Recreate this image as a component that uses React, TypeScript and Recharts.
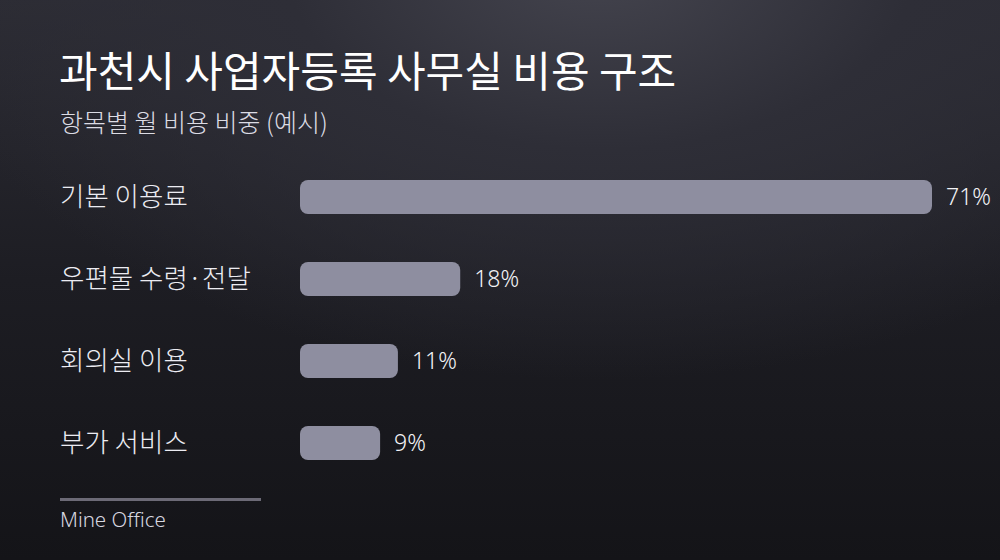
import React from "react";
import { BarChart, Bar, XAxis, YAxis, LabelList } from "recharts";

const categories = ["기본 이용료", "우편물 수령·전달", "회의실 이용", "부가 서비스"];
const shares = [71, 18, 11, 9];

const chartData = categories.map((name, i) => ({ name, value: shares[i] }));

const FONT = '"Noto Sans CJK KR", "Noto Sans", sans-serif';
const LATIN = '"Noto Sans", "Noto Sans CJK KR", sans-serif';

function CategoryTick({ y, payload }: any) {
  return (
    <text
      x={60}
      y={y}
      dy={9}
      textAnchor="start"
      fill="#ececf2"
      fontSize={26.5}
      fontWeight={300}
      fontFamily={FONT}
    >
      {payload.value}
    </text>
  );
}

export default function App() {
  return (
    <div
      style={{
        position: "fixed",
        left: 0,
        top: 0,
        width: 1000,
        height: 560,
        overflow: "hidden",
        fontFamily: FONT,
        background:
          "radial-gradient(ellipse 700px 420px at 600px -40px, #45454f 0%, #2e2e37 45%, rgba(0,0,0,0) 100%), linear-gradient(180deg, #2c2c34 0%, #1d1d23 50%, #141418 100%)",
      }}
    >
      <div
        style={{
          position: "absolute",
          left: 59,
          top: 44,
          fontSize: 42,
          fontWeight: 400,
          color: "#ffffff",
          whiteSpace: "nowrap",
          lineHeight: 1.2,
        }}
      >
        과천시 사업자등록 사무실 비용 구조
      </div>
      <div
        style={{
          position: "absolute",
          left: 60,
          top: 106,
          fontSize: 25,
          fontWeight: 300,
          color: "#dcdce4",
          whiteSpace: "nowrap",
          lineHeight: 1.2,
        }}
      >
        항목별 월 비용 비중 (예시)
      </div>

      <div style={{ position: "absolute", left: 0, top: 0 }}>
        <BarChart
          width={1000}
          height={560}
          data={chartData}
          layout="vertical"
          margin={{ top: 156, right: 68, bottom: 76, left: 0 }}
          barSize={34}
        >
          <XAxis type="number" domain={[0, 71]} hide />
          <YAxis
            type="category"
            dataKey="name"
            width={300}
            axisLine={false}
            tickLine={false}
            tick={<CategoryTick />}
          />
          <Bar dataKey="value" fill="#8e8ea0" radius={8} isAnimationActive={false}>
            <LabelList
              dataKey="value"
              position="right"
              offset={14}
              formatter={(v: any) => `${v}%`}
              fill="#f2f2f6"
              fontSize={23}
              fontWeight={300}
              fontFamily={LATIN}
            />
          </Bar>
        </BarChart>
      </div>

      <div
        style={{
          position: "absolute",
          left: 60,
          top: 498,
          width: 201,
          height: 3,
          background: "#6c6a76",
        }}
      />
      <div
        style={{
          position: "absolute",
          left: 60,
          top: 507,
          fontSize: 20.5,
          fontFamily: LATIN,
          fontWeight: 300,
          color: "#d8d8e0",
          whiteSpace: "nowrap",
          lineHeight: 1.2,
        }}
      >
        Mine Office
      </div>
    </div>
  );
}
